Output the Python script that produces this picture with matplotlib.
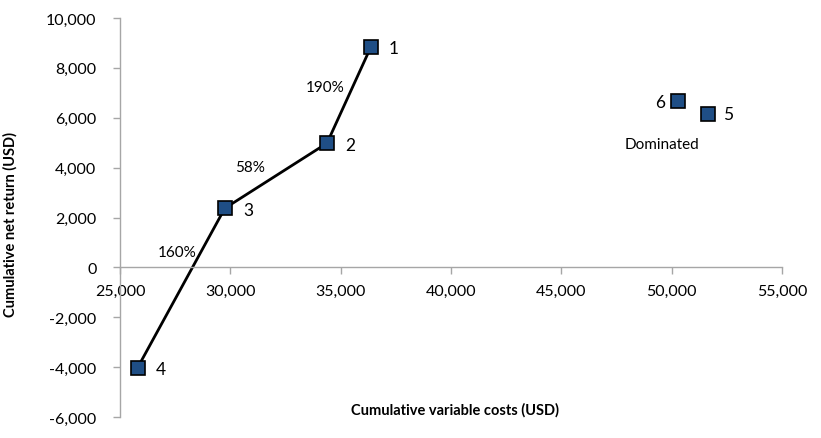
import matplotlib.pyplot as plt
from matplotlib.ticker import FuncFormatter

# Data
frontier_ids = ['4', '3', '2', '1']
frontier_cost = [25800, 29750, 34380, 36370]
frontier_return = [-4020, 2370, 4980, 8840]

dominated_ids = ['6', '5']
dominated_cost = [50280, 51630]
dominated_return = [6670, 6150]

# slope labels and where they sit (data coords)
slope_labels = ['160%', '58%', '190%']
slope_x = [27580, 30890, 34290]
slope_y = [600, 4010, 7230]

plt.rcParams['font.family'] = ['Lato', 'DejaVu Sans']

fig = plt.figure(figsize=(8.21, 4.39), dpi=100)
ax = fig.add_axes([120 / 821, 1 - 418 / 439, 662 / 821, 399 / 439])

marker_kw = dict(marker='s', markersize=10, markerfacecolor='#1f4e85',
                 markeredgecolor='black', markeredgewidth=1.2)

# frontier line + markers
ax.plot(frontier_cost, frontier_return, color='black', linewidth=2, zorder=2)
ax.plot(frontier_cost, frontier_return, linestyle='none', zorder=3, **marker_kw)
ax.plot(dominated_cost, dominated_return, linestyle='none', zorder=3, **marker_kw)

# point labels
for name, cx, cy in zip(frontier_ids, frontier_cost, frontier_return):
    ax.annotate(name, (cx, cy), xytext=(13, -1), textcoords='offset points',
                fontsize=12.5, va='center', ha='left')
ax.annotate(dominated_ids[0], (dominated_cost[0], dominated_return[0]),
            xytext=(-9, -1), textcoords='offset points',
            fontsize=12.5, va='center', ha='right')
ax.annotate(dominated_ids[1], (dominated_cost[1], dominated_return[1]),
            xytext=(11, 0), textcoords='offset points',
            fontsize=12.5, va='center', ha='left')
ax.text(47870, 4940, 'Dominated', fontsize=11, va='center', ha='left')

for lab, sx, sy in zip(slope_labels, slope_x, slope_y):
    ax.text(sx, sy, lab, fontsize=11, va='center', ha='center')

ax.set_xlim(25000, 55000)
ax.set_ylim(-6000, 10000)
ax.set_xticks(range(25000, 55001, 5000))
ax.set_yticks(range(-6000, 10001, 2000))

fmt = FuncFormatter(lambda v, p: '0' if v == 0 else f'{int(v):,}')
ax.xaxis.set_major_formatter(fmt)
ax.yaxis.set_major_formatter(fmt)

# axes styling, x axis crosses at y=0
for s in ['top', 'right']:
    ax.spines[s].set_visible(False)
ax.spines['bottom'].set_position(('data', 0))
for s in ['left', 'bottom']:
    ax.spines[s].set_color('#a6a6a6')
    ax.spines[s].set_linewidth(1)
ax.tick_params(axis='both', colors='#a6a6a6', length=5, width=1,
               labelcolor='black', labelsize=11.5)
ax.tick_params(axis='x', pad=7)
ax.tick_params(axis='y', pad=12)

ax.set_ylabel('Cumulative net return (USD)', fontsize=10.5, fontweight='bold')
ax.yaxis.set_label_coords(-0.154, 0.484)
fig.text(455 / 821, 1 - 410 / 439, 'Cumulative variable costs (USD)',
         fontsize=10.5, fontweight='bold', ha='center', va='center')

fig.savefig('out.png', dpi=100)
